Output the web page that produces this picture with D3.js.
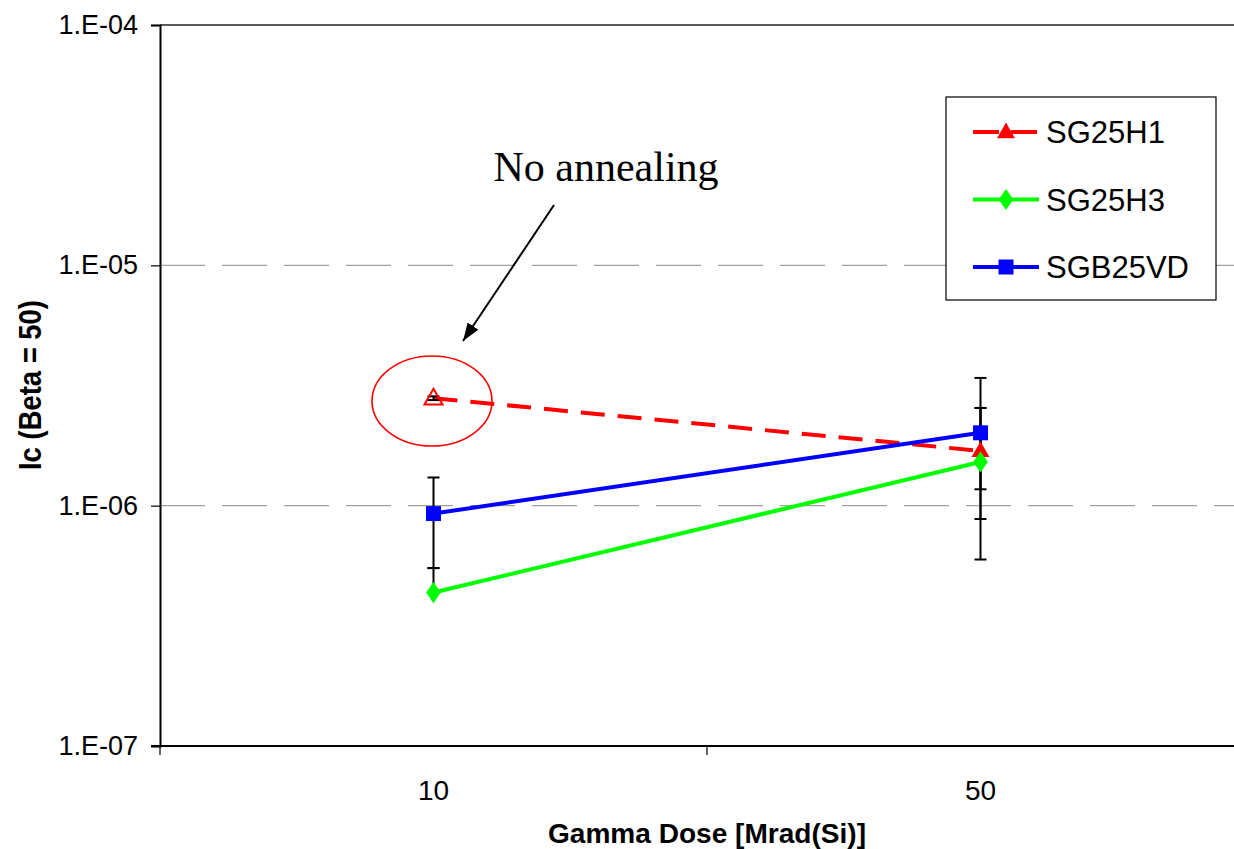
<!DOCTYPE html>
<html>
<head>
	<meta charset="utf-8">
	<title>Ic vs gamma dose</title>
	<script type="text/javascript" src="https://cdn.jsdelivr.net/npm/d3@7/dist/d3.min.js"></script>
	<style>
		body { margin: 0; background: #fff; }
		svg { display: block; }
		text { font-family: Arial, "Liberation Sans", sans-serif; }
	</style>
</head>
<body>
	<svg id="chart" width="1234" height="849"></svg>
	<script type="text/javascript">
		// data
		var doses = ["10", "50"];
		var yTicks = [1e-7, 1e-6, 1e-5, 1e-4];
		var seriesNames = ["SG25H1", "SG25H3", "SGB25VD"];
		var h1Values = [2.8e-6, 1.69e-6];
		var h3Values = [4.35e-7, 1.52e-6];
		var vdValues = [9.27e-7, 2.01e-6];
		// error bars [low, high] per dose
		var h1Err = [[2.75e-6, 2.85e-6], [1.17e-6, 2.55e-6]];
		var h3Err = [[4.35e-7, 5.5e-7], [8.8e-7, 2.55e-6]];
		var vdErr = [[5.5e-7, 1.31e-6], [5.97e-7, 3.4e-6]];

		(function() {
		var series = [
			{ name: seriesNames[0], values: h1Values, err: h1Err, color: "#ff0000", shape: "triangle", dash: "24,13" },
			{ name: seriesNames[1], values: h3Values, err: h3Err, color: "#00ff00", shape: "diamond", dash: null },
			{ name: seriesNames[2], values: vdValues, err: vdErr, color: "#0000ff", shape: "square", dash: null }
		];

		var svg = d3.select("#chart");
		var plotLeft = 160, plotTop = 25, plotBottom = 746, plotRight = 1254;

		var x = d3.scalePoint().domain(doses).range([plotLeft, plotRight]).padding(0.5);
		var y = d3.scaleLog().domain([1e-7, 1e-4]).range([plotBottom, plotTop]);
		var step = x.step();

		// gridlines
		svg.append("g").selectAll("line")
			.data(yTicks.filter(function(d) { return d > 1e-7 && d < 1e-4; }))
			.enter().append("line")
			.attr("x1", plotLeft).attr("x2", plotRight)
			.attr("y1", function(d) { return y(d); })
			.attr("y2", function(d) { return y(d); })
			.attr("stroke", "#a0a0a0")
			.attr("stroke-width", 1.2)
			.attr("stroke-dasharray", "45,17");

		svg.append("line")
			.attr("x1", plotLeft).attr("x2", plotRight)
			.attr("y1", y(1e-4)).attr("y2", y(1e-4))
			.attr("stroke", "#222").attr("stroke-width", 1.5);

		// y axis
		var yAxis = d3.axisLeft(y).tickValues(yTicks).tickSize(9).tickPadding(13)
			.tickFormat(function(d) { return "1.E-0" + Math.round(-Math.log10(d)); });
		var gy = svg.append("g").attr("transform", "translate(" + plotLeft + ",0)").call(yAxis);
		gy.select(".domain").attr("stroke", "#000").attr("stroke-width", 2);
		gy.selectAll(".tick line").attr("stroke", "#000").attr("stroke-width", 1.2);
		gy.selectAll(".tick text").attr("font-size", 27).attr("fill", "#000")
			.style("font-family", "Arial, 'Liberation Sans', sans-serif");

		// x axis (category with ticks between categories)
		var gx = svg.append("g").attr("transform", "translate(0," + plotBottom + ")");
		gx.append("line").attr("x1", plotLeft - 9).attr("x2", plotRight)
			.attr("stroke", "#000").attr("stroke-width", 2);
		gx.selectAll(".sep")
			.data(d3.range(doses.length + 1))
			.enter().append("line")
			.attr("x1", function(i) { return plotLeft + i * step; })
			.attr("x2", function(i) { return plotLeft + i * step; })
			.attr("y1", 0).attr("y2", 9)
			.attr("stroke", "#000").attr("stroke-width", 1.2);
		gx.selectAll(".lbl")
			.data(doses)
			.enter().append("text")
			.attr("x", function(d) { return x(d); })
			.attr("y", 54)
			.attr("text-anchor", "middle")
			.attr("font-size", 28)
			.text(function(d) { return d; });

		// axis titles
		svg.append("text")
			.attr("x", 707).attr("y", 843)
			.attr("text-anchor", "middle")
			.attr("font-size", 27).attr("font-weight", "bold")
			.attr("textLength", 318).attr("lengthAdjust", "spacingAndGlyphs")
			.text("Gamma Dose [Mrad(Si)]");
		svg.append("text")
			.attr("transform", "translate(41,385) rotate(-90)")
			.attr("text-anchor", "middle")
			.attr("font-size", 32).attr("font-weight", "bold")
			.attr("textLength", 170).attr("lengthAdjust", "spacingAndGlyphs")
			.text("Ic (Beta = 50)");

		// series lines
		var line = d3.line()
			.x(function(d, i) { return x(doses[i]); })
			.y(function(d) { return y(d); });

		svg.append("g").selectAll("path")
			.data(series)
			.enter().append("path")
			.attr("d", function(s) { return line(s.values); })
			.attr("fill", "none")
			.attr("stroke", function(s) { return s.color; })
			.attr("stroke-width", 4)
			.attr("stroke-dasharray", function(s) { return s.dash; });

		// error bars
		var eb = svg.append("g");
		series.forEach(function(s) {
			s.err.forEach(function(e, i) {
				var cx = x(doses[i]);
				eb.append("line").attr("x1", cx).attr("x2", cx)
					.attr("y1", y(e[0])).attr("y2", y(e[1]))
					.attr("stroke", "#000").attr("stroke-width", 2);
				e.forEach(function(v) {
					if (v === s.values[i]) return;
					eb.append("line").attr("x1", cx - 6).attr("x2", cx + 6)
						.attr("y1", y(v)).attr("y2", y(v))
						.attr("stroke", "#000").attr("stroke-width", 2);
				});
			});
		});

		// markers
		var shapes = {
			triangle: d3.symbol().type(d3.symbolTriangle).size(140),
			diamond: d3.symbol().type(d3.symbolDiamond).size(130),
			square: d3.symbol().type(d3.symbolSquare).size(225)
		};
		var mk = svg.append("g");
		series.forEach(function(s) {
			s.values.forEach(function(v, i) {
				var hollow = (s.shape === "triangle" && i === 0);
				mk.append("path")
					.attr("d", shapes[s.shape]())
					.attr("transform", "translate(" + x(doses[i]) + "," + (y(v) + (s.shape === "triangle" ? 1 : 0)) + ")" + (s.shape === "diamond" ? " scale(1.2,1)" : ""))
					.attr("fill", hollow ? "none" : s.color)
					.attr("stroke", s.color)
					.attr("stroke-width", hollow ? 2 : 0);
			});
		});

		// annotation
		svg.append("ellipse")
			.attr("cx", 432).attr("cy", 401).attr("rx", 60).attr("ry", 45)
			.attr("fill", "none").attr("stroke", "#ff0000").attr("stroke-width", 1.6);
		svg.append("defs").append("marker")
			.attr("id", "arrow").attr("viewBox", "0 0 10 10")
			.attr("refX", 10).attr("refY", 5)
			.attr("markerWidth", 18).attr("markerHeight", 13)
			.attr("markerUnits", "userSpaceOnUse")
			.attr("orient", "auto")
			.attr("preserveAspectRatio", "none")
			.append("path").attr("d", "M0,0L10,5L0,10Z").attr("fill", "#000");
		svg.append("line")
			.attr("x1", 554).attr("y1", 205).attr("x2", 463).attr("y2", 341)
			.attr("stroke", "#000").attr("stroke-width", 2)
			.attr("marker-end", "url(#arrow)");
		svg.append("text")
			.attr("x", 606).attr("y", 181)
			.attr("text-anchor", "middle")
			.style("font-family", "'Liberation Serif', 'Times New Roman', serif")
			.attr("font-size", 42)
			.text("No annealing");

		// legend
		var lg = svg.append("g").attr("transform", "translate(946,97)");
		lg.append("rect").attr("width", 270).attr("height", 203)
			.attr("fill", "#fff").attr("stroke", "#000").attr("stroke-width", 1.2);
		var rows = lg.selectAll(".row").data(series).enter().append("g")
			.attr("transform", function(s, i) { return "translate(0," + (35 + i * 67.5) + ")"; });
		rows.append("line").attr("x1", 27).attr("x2", 93)
			.attr("stroke", function(s) { return s.color; })
			.attr("stroke-width", 4)
			.attr("stroke-dasharray", function(s) { return s.dash ? "26,12" : null; });
		rows.append("path")
			.attr("d", function(s) { return shapes[s.shape](); })
			.attr("transform", function(s) { return "translate(60," + (s.shape === "triangle" ? 1 : 0) + ")" + (s.shape === "diamond" ? " scale(1.2,1)" : ""); })
			.attr("fill", function(s) { return s.color; });
		rows.append("text")
			.attr("x", 100).attr("y", 11)
			.attr("font-size", 31)
			.text(function(s) { return s.name; });
		})();
	</script>
</body>
</html>
